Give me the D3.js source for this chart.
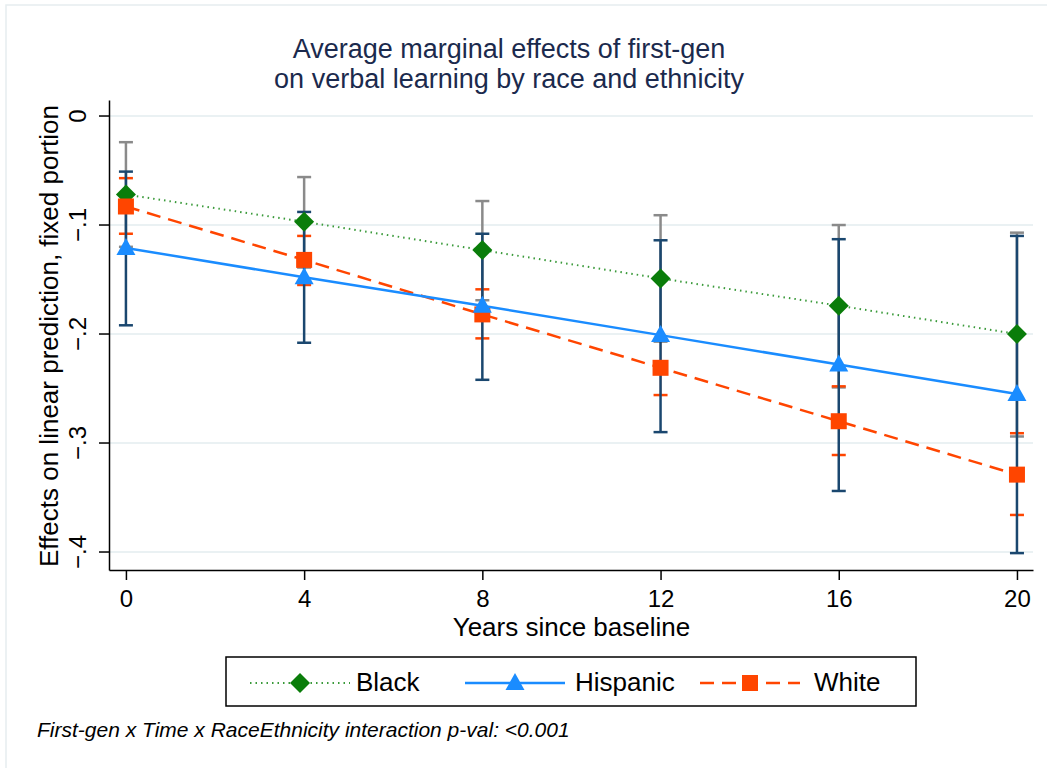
<!DOCTYPE html>
<html lang="en">
<head>
    <meta charset="UTF-8">
    <title>Average marginal effects of first-gen</title>
    <style>
        body {
            margin: 0;
            background: #fff;
            font-family: "Liberation Sans", Arial, sans-serif;
        }

        .grid line {
            stroke: #eaf1f3;
            stroke-width: 2px;
        }

        .axis path,
        .axis line {
            stroke: #000;
            stroke-width: 1.5px;
        }

        .axis text {
            font-size: 24px;
            fill: #000;
        }
    </style>
</head>
<body>
    <svg id="chart" width="1047" height="768"></svg>
    <script src="https://cdn.jsdelivr.net/npm/d3@7"></script>
    <script>
        // values
        const years = [0, 4, 8, 12, 16, 20];
        const yTicks = [0, -0.1, -0.2, -0.3, -0.4];
        const xTicks = [0, 4, 8, 12, 16, 20];

        const blackEst = [-0.072, -0.097, -0.123, -0.149, -0.174, -0.200];
        const blackHi = [-0.024, -0.056, -0.078, -0.091, -0.100, -0.107];
        const blackLo = [-0.120, -0.139, -0.169, -0.207, -0.249, -0.294];

        const hispEst = [-0.121, -0.148, -0.174, -0.201, -0.228, -0.255];
        const hispHi = [-0.051, -0.088, -0.108, -0.114, -0.113, -0.110];
        const hispLo = [-0.192, -0.208, -0.242, -0.290, -0.344, -0.401];

        const whiteEst = [-0.083, -0.132, -0.182, -0.231, -0.280, -0.329];
        const whiteHi = [-0.057, -0.110, -0.159, -0.205, -0.248, -0.291];
        const whiteLo = [-0.108, -0.155, -0.204, -0.256, -0.311, -0.366];

        const series = [
            { name: "Black", est: blackEst, hi: blackHi, lo: blackLo, marker: "diamond",
              color: "#0a7d0a", lineColor: "#3a9a3a", dash: "1.5,4", lw: 2, ciColor: "#8a8a8a" },
            { name: "White", est: whiteEst, hi: whiteHi, lo: whiteLo, marker: "square",
              color: "#ff4500", lineColor: "#ff4500", dash: "14,8", lw: 2.5, ciColor: "#ff4500" },
            { name: "Hispanic", est: hispEst, hi: hispHi, lo: hispLo, marker: "triangle",
              color: "#1a8cff", lineColor: "#1a8cff", dash: null, lw: 2.5, ciColor: "#1a476f" }
        ];
        const legendOrder = ["Black", "Hispanic", "White"];

        const svg = d3.select("#chart");

        // faint outer frame
        svg.append("rect")
            .attr("x", 6).attr("y", 5)
            .attr("width", 1060).attr("height", 780)
            .attr("fill", "none")
            .attr("stroke", "#e6edf0")
            .attr("stroke-width", 1.5);

        const plot = { left: 109, right: 1033, top: 100, bottom: 570 };

        const x = d3.scaleLinear().domain([-0.38, 20.36]).range([plot.left, plot.right]);
        const y = d3.scaleLinear().domain([-0.4165, 0.0147]).range([plot.bottom, plot.top]);

        // gridlines
        svg.append("g").attr("class", "grid")
            .selectAll("line")
            .data(yTicks)
            .join("line")
            .attr("x1", plot.left).attr("x2", plot.right)
            .attr("y1", d => y(d)).attr("y2", d => y(d));

        // axes
        const fmt = d => d === 0 ? "0" : d3.format(".1f")(d).replace("0.", ".");

        const yAxis = svg.append("g").attr("class", "axis")
            .attr("transform", `translate(${plot.left},0)`)
            .call(d3.axisLeft(y).tickValues(yTicks).tickSize(10).tickSizeOuter(0).tickFormat(fmt));
        yAxis.selectAll(".tick").attr("transform", null);
        yAxis.selectAll(".tick line").attr("y1", d => y(d)).attr("y2", d => y(d));
        yAxis.selectAll(".tick text")
            .attr("transform", "rotate(-90)")
            .attr("x", d => -y(d))
            .attr("y", -23)
            .attr("dy", 0)
            .style("text-anchor", "middle");

        svg.append("g").attr("class", "axis")
            .attr("transform", `translate(0,${plot.bottom})`)
            .call(d3.axisBottom(x).tickValues(xTicks).tickSize(10).tickSizeOuter(0))
            .selectAll("text").attr("dy", "0.98em");

        // axis titles
        svg.append("text")
            .attr("x", (x(0) + x(20)) / 2).attr("y", 636)
            .attr("text-anchor", "middle")
            .style("font-size", "26px")
            .text("Years since baseline");

        svg.append("text")
            .attr("transform", `translate(58,336) rotate(-90)`)
            .attr("text-anchor", "middle")
            .style("font-size", "26px")
            .text("Effects on linear prediction, fixed portion");

        // title
        const title = svg.append("text")
            .attr("text-anchor", "middle")
            .style("font-size", "27px")
            .attr("fill", "#1b2a4d");
        title.append("tspan").attr("x", 509).attr("y", 58).text("Average marginal effects of first-gen");
        title.append("tspan").attr("x", 509).attr("y", 88).text("on verbal learning by race and ethnicity");

        // markers
        function drawMarker(sel, type, color) {
            if (type === "diamond") {
                sel.append("path").attr("d", "M0,-10L10,0L0,10L-10,0Z").attr("fill", color);
            } else if (type === "square") {
                sel.append("rect").attr("x", -8).attr("y", -8).attr("width", 16).attr("height", 16).attr("fill", color);
            } else {
                sel.append("path").attr("d", "M0,-10L9.5,7L-9.5,7Z").attr("fill", color);
            }
        }

        // CI bars
        series.forEach(s => {
            const g = svg.append("g");
            years.forEach((yr, i) => {
                const cx = x(yr);
                g.append("line").attr("x1", cx).attr("x2", cx)
                    .attr("y1", y(s.hi[i])).attr("y2", y(s.lo[i]))
                    .attr("stroke", s.ciColor).attr("stroke-width", s.name === "White" ? 1.5 : 2.5);
                [s.hi[i], s.lo[i]].forEach(v => {
                    g.append("line").attr("x1", cx - 7).attr("x2", cx + 7)
                        .attr("y1", y(v)).attr("y2", y(v))
                        .attr("stroke", s.ciColor).attr("stroke-width", 2.5);
                });
            });
        });

        // lines + markers
        const line = d3.line().x(d => x(d[0])).y(d => y(d[1]));
        series.forEach(s => {
            svg.append("path")
                .datum(years.map((yr, i) => [yr, s.est[i]]))
                .attr("d", line)
                .attr("fill", "none")
                .attr("stroke", s.lineColor)
                .attr("stroke-width", s.lw)
                .attr("stroke-dasharray", s.dash);
            years.forEach((yr, i) => {
                const m = svg.append("g").attr("transform", `translate(${x(yr)},${y(s.est[i])})`);
                drawMarker(m, s.marker, s.color);
            });
        });

        // legend
        svg.append("rect")
            .attr("x", 226).attr("y", 657).attr("width", 690).attr("height", 49)
            .attr("fill", "#fff").attr("stroke", "#000").attr("stroke-width", 1.5);
        const legX = { Black: 250, Hispanic: 465, White: 700 };
        const textX = { Black: 356, Hispanic: 575, White: 814 };
        legendOrder.forEach(name => {
            const s = series.find(d => d.name === name);
            const lx = legX[name];
            svg.append("line")
                .attr("x1", lx).attr("x2", lx + 100).attr("y1", 683).attr("y2", 683)
                .attr("stroke", s.lineColor).attr("stroke-width", s.lw)
                .attr("stroke-dasharray", s.dash);
            const m = svg.append("g").attr("transform", `translate(${lx + 50},683)`);
            drawMarker(m, s.marker, s.color);
            svg.append("text").attr("x", textX[name]).attr("y", 691)
                .style("font-size", "26px").text(name);
        });

        // note
        svg.append("text")
            .attr("x", 37).attr("y", 737)
            .style("font-size", "21px").style("font-style", "italic")
            .text("First-gen x Time x RaceEthnicity interaction p-val: <0.001");
    </script>
</body>
</html>
